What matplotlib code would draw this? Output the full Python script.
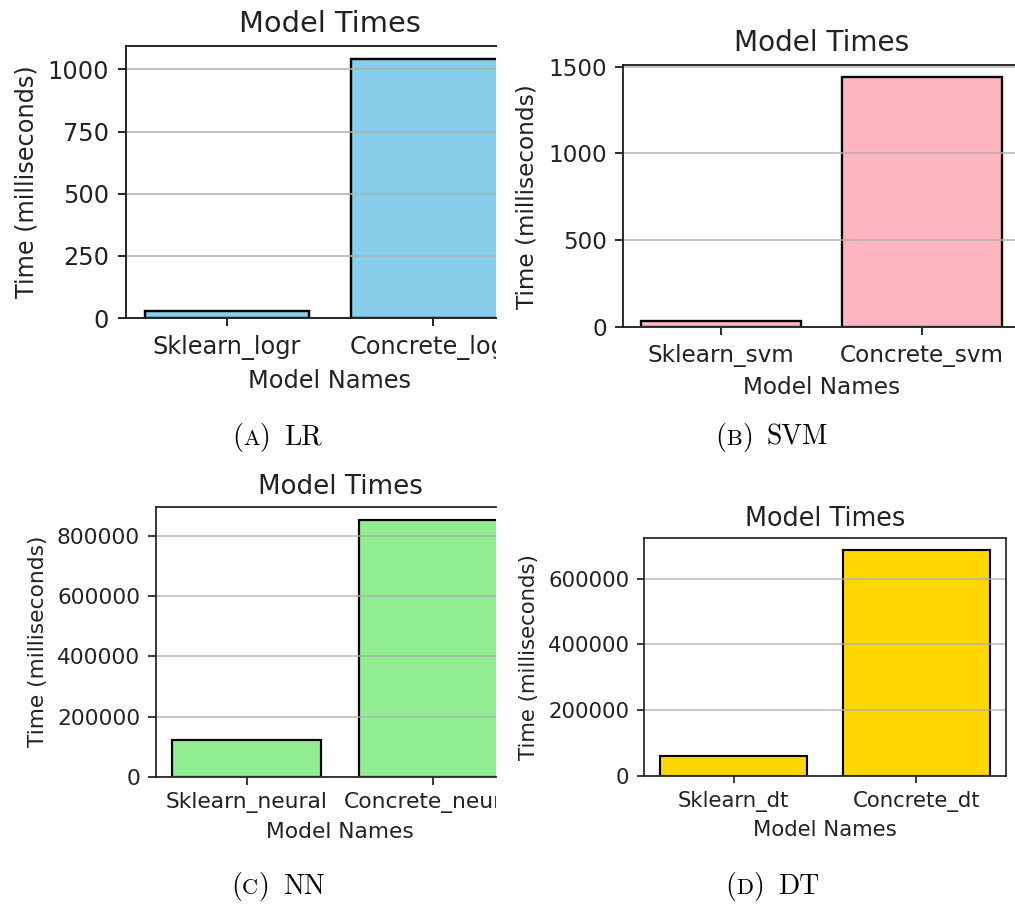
import matplotlib
matplotlib.use("Agg")
import matplotlib.pyplot as plt
from matplotlib.offsetbox import TextArea, HPacker, AnnotationBbox
from matplotlib.transforms import Bbox, TransformedBbox

# Datos de cada modelo (tiempo en milisegundos)
names_lr = ['Sklearn_logr', 'Concrete_logr']
times_lr = [28, 1042]
yticks_lr = [0, 250, 500, 750, 1000]

names_svm = ['Sklearn_svm', 'Concrete_svm']
times_svm = [36, 1437]
yticks_svm = [0, 500, 1000, 1500]

names_nn = ['Sklearn_neural', 'Concrete_neural']
times_nn = [122000, 855000]
yticks_nn = [0, 200000, 400000, 600000, 800000]

names_dt = ['Sklearn_dt', 'Concrete_dt']
times_dt = [60000, 688000]
yticks_dt = [0, 200000, 400000, 600000]

W, H = 1015, 905
fig = plt.figure(figsize=(W / 100, H / 100), dpi=100)


def panel(rect, crop, scale, names, values, color, yticks):
    # rect = (left, top, right, bottom) en pixeles de la figura completa
    left, top, right_full, bottom = rect
    right = min(right_full, crop) if crop else right_full
    frac = (right - left) / (right_full - left)
    ax = fig.add_axes([left / W, 1 - bottom / H, (right - left) / W, (bottom - top) / H])
    ax.bar(names, values, color=color, edgecolor='black', linewidth=1.0 * scale)
    ax.set_yticks(yticks)
    ax.grid(axis='y', color='#b0b0b0', linewidth=0.8 * scale, alpha=0.8)

    # limites x como los de matplotlib, recortados igual que la imagen original
    n = len(names)
    m = 0.05 * (n - 1 + 0.8)
    lo, hi = -0.4 - m, n - 1 + 0.4 + m
    ax.set_xlim(lo, lo + (hi - lo) * frac)

    for s in ax.spines.values():
        s.set_linewidth(0.8 * scale)
        s.set_color('#222222')
    if crop:
        ax.spines['right'].set_visible(False)

    ax.tick_params(labelsize=10 * scale, length=3.5 * scale, width=0.8 * scale,
                   pad=3.5 * scale, colors='#222222')
    ax.set_title('Model Times', fontsize=12 * scale, pad=6 * scale, color='#222222')
    ax.title.set_x(0.5 / frac)
    ax.set_xlabel('Model Names', fontsize=10 * scale, labelpad=4 * scale, x=0.5 / frac, color='#222222')
    ax.set_ylabel('Time (milliseconds)', fontsize=10 * scale, labelpad=4 * scale, color='#222222')

    if crop:
        clip = TransformedBbox(Bbox([[0, 0], [crop / W, 1]]), fig.transFigure)
        for lbl in ax.get_xticklabels():
            lbl.set_clip_box(clip)
            lbl.set_clip_on(True)
    return ax


def caption(x, y, letter, name):
    size = 20
    kw = dict(family='cmr10', size=size)
    parts = [
        TextArea('(', textprops=kw),
        TextArea(letter, textprops=dict(family='cmr10', size=size * 0.8)),
        TextArea(')', textprops=kw),
        TextArea(name, textprops=kw),
    ]
    box = HPacker(children=parts[:3], align='baseline', pad=0, sep=0)
    box = HPacker(children=[box, parts[3]], align='baseline', pad=0, sep=10)
    ab = AnnotationBbox(box, (x / W, 1 - y / H), xycoords='figure fraction',
                        box_alignment=(0.5, 0.5), frameon=False)
    fig.add_artist(ab)


panel((126, 46, 534, 318), 496, 1.73, names_lr, times_lr, 'skyblue', yticks_lr)
panel((623, 65, 1020, 327.3), None, 1.67, names_svm, times_svm, 'lightpink', yticks_svm)
panel((155.5, 506.7, 524.8, 776.7), 496, 1.57, names_nn, times_nn, 'lightgreen', yticks_nn)
panel((644, 538.3, 1006, 775.7), None, 1.53, names_dt, times_dt, 'gold', yticks_dt)

caption(277, 437, 'A', 'LR')
caption(772, 437, 'B', 'SVM')
caption(278, 886, 'C', 'NN')
caption(772, 886, 'D', 'DT')

plt.savefig('out.png', dpi=100)
